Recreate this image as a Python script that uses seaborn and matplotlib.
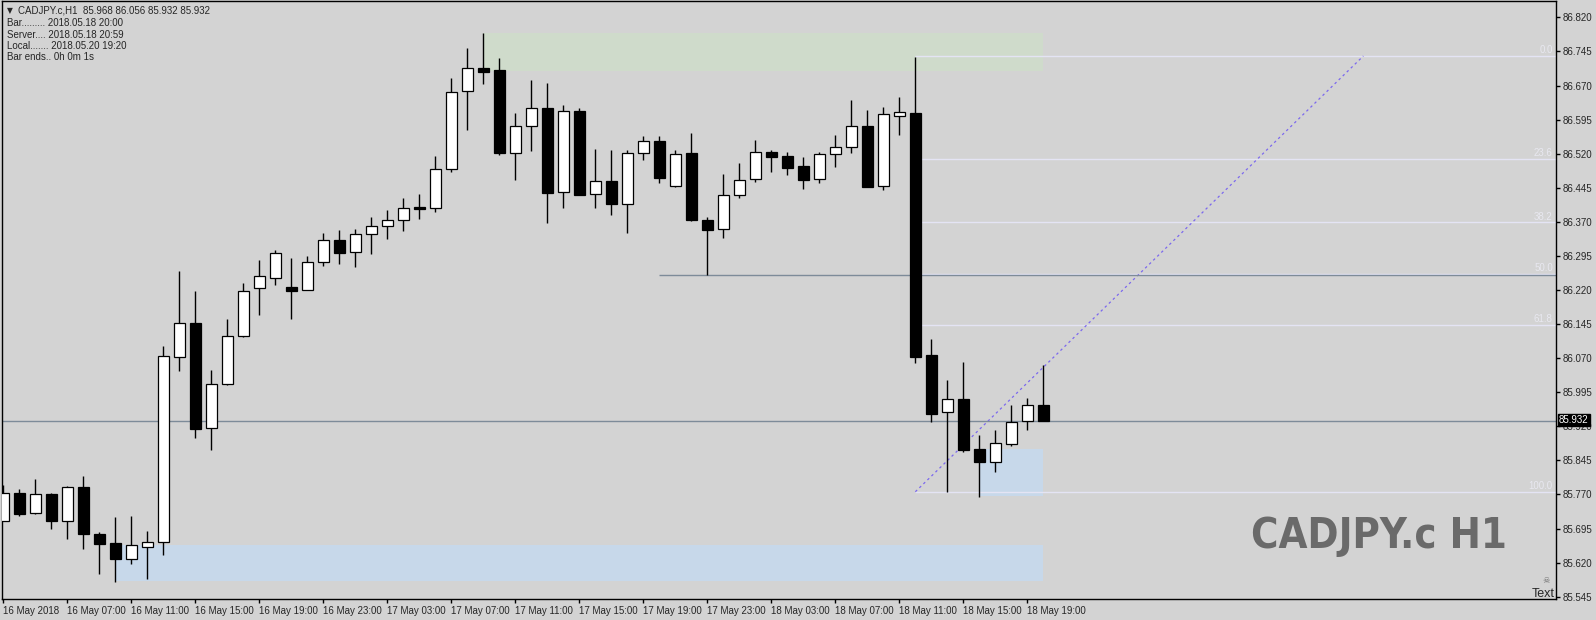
import numpy as np
import pandas as pd
import seaborn as sns
import matplotlib.pyplot as plt
from matplotlib import font_manager

# hourly CADJPY.c candles, 16 May 03:00 .. 18 May 20:00
opens = [85.712, 85.773, 85.729, 85.771, 85.711, 85.787, 85.682, 85.663, 85.628, 85.655,
         85.665, 86.073, 86.147, 85.916, 86.013, 86.119, 86.225, 86.247, 86.227, 86.221,
         86.281, 86.330, 86.303, 86.343, 86.360, 86.373, 86.402, 86.400, 86.486, 86.657,
         86.708, 86.704, 86.521, 86.582, 86.620, 86.435, 86.615, 86.431, 86.459, 86.409,
         86.521, 86.547, 86.448, 86.521, 86.373, 86.354, 86.428, 86.464, 86.523, 86.514,
         86.493, 86.464, 86.519, 86.534, 86.581, 86.448, 86.604, 86.609, 86.077, 85.951,
         85.980, 85.870, 85.842, 85.882, 85.931, 85.968]
highs = [85.791, 85.782, 85.804, 85.773, 85.789, 85.811, 85.688, 85.721, 85.722, 85.690,
         86.097, 86.262, 86.218, 86.044, 86.156, 86.235, 86.286, 86.308, 86.290, 86.295,
         86.345, 86.352, 86.354, 86.381, 86.396, 86.422, 86.431, 86.515, 86.686, 86.752,
         86.785, 86.730, 86.609, 86.682, 86.675, 86.627, 86.620, 86.530, 86.528, 86.528,
         86.559, 86.559, 86.528, 86.565, 86.381, 86.475, 86.499, 86.550, 86.528, 86.524,
         86.513, 86.524, 86.561, 86.638, 86.616, 86.623, 86.645, 86.733, 86.112, 86.022,
         86.062, 85.901, 85.912, 85.967, 85.982, 86.056]
lows = [85.711, 85.723, 85.726, 85.694, 85.671, 85.651, 85.594, 85.578, 85.618, 85.583,
        85.637, 86.042, 85.895, 85.869, 86.012, 86.117, 86.166, 86.232, 86.157, 86.220,
        86.273, 86.278, 86.271, 86.300, 86.333, 86.350, 86.377, 86.392, 86.480, 86.573,
        86.674, 86.518, 86.463, 86.526, 86.368, 86.401, 86.429, 86.401, 86.386, 86.346,
        86.505, 86.456, 86.447, 86.372, 86.252, 86.335, 86.423, 86.458, 86.480, 86.472,
        86.443, 86.456, 86.491, 86.522, 86.446, 86.441, 86.561, 86.060, 85.930, 85.776,
        85.864, 85.765, 85.820, 85.877, 85.913, 85.932]
closes = [85.773, 85.728, 85.770, 85.712, 85.786, 85.682, 85.662, 85.628, 85.658, 85.665,
          86.074, 86.147, 85.915, 86.013, 86.118, 86.218, 86.251, 86.301, 86.218, 86.282,
          86.330, 86.302, 86.343, 86.361, 86.373, 86.400, 86.399, 86.486, 86.655, 86.708,
          86.700, 86.522, 86.582, 86.620, 86.434, 86.615, 86.430, 86.459, 86.410, 86.521,
          86.547, 86.467, 86.519, 86.373, 86.353, 86.428, 86.461, 86.523, 86.513, 86.489,
          86.463, 86.519, 86.534, 86.582, 86.447, 86.607, 86.611, 86.073, 85.948, 85.980,
          85.869, 85.842, 85.883, 85.929, 85.966, 85.932]

time_labels = ["16 May 2018", "16 May 07:00", "16 May 11:00", "16 May 15:00", "16 May 19:00",
               "16 May 23:00", "17 May 03:00", "17 May 07:00", "17 May 11:00", "17 May 15:00",
               "17 May 19:00", "17 May 23:00", "18 May 03:00", "18 May 07:00", "18 May 11:00",
               "18 May 15:00", "18 May 19:00"]
price_ticks = [85.545, 85.620, 85.695, 85.770, 85.845, 85.920, 85.995, 86.070, 86.145,
               86.220, 86.295, 86.370, 86.445, 86.520, 86.595, 86.670, 86.745, 86.820]

fib_levels = [0.0, 23.6, 38.2, 50.0, 61.8, 100.0]
fib_high = 86.735
fib_low = 85.776
fib_start, fib_end = 57, 85
bid = 85.932
support = 86.254
support_start = 41
green_zone = (30, 65, 86.701, 86.786)
blue_zone = (7, 65, 85.580, 85.659)
blue_zone2 = (61, 65, 85.767, 85.870)

header = ["Bar......... 2018.05.18 20:00", "Server.... 2018.05.18 20:59",
          "Local....... 2018.05.20 19:20", "Bar ends.. 0h 0m 1s"]

bg = "#d3d3d3"
sns.set_style("white", rc={"axes.facecolor": bg, "figure.facecolor": bg,
                           "axes.edgecolor": "black"})
plt.rcParams["font.family"] = ["Liberation Sans", "DejaVu Sans"]

df = pd.DataFrame({"o": opens, "h": highs, "l": lows, "c": closes})
df["bar"] = np.arange(len(df))
df["bottom"] = df[["o", "c"]].min(axis=1)
df["height"] = (df["o"] - df["c"]).abs().clip(lower=0.0015)
df["bull"] = df["c"] > df["o"]

fig = plt.figure(figsize=(15.96, 6.2), dpi=100)
ax = fig.add_axes([2 / 1596, 21 / 620, 1554 / 1596, 598 / 620])
xmin, xmax = -0.08, 97.04
ax.set_xlim(xmin, xmax)
ax.set_ylim(85.540, 86.856)

# zones
for x0, x1, y0, y1 in [green_zone]:
    ax.fill_between([x0, x1], y0, y1, color="#cfdbcb", lw=0, zorder=0.5)
for x0, x1, y0, y1 in [blue_zone, blue_zone2]:
    ax.fill_between([x0, x1], y0, y1, color="#c7d8ea", lw=0, zorder=0.5)

# fibonacci levels
for lvl in fib_levels:
    p = fib_high - (fib_high - fib_low) * lvl / 100
    ax.hlines(p, fib_start, xmax, color="#e4e4f4", lw=1, zorder=1)
    ax.text(xmax - 0.2, p + 0.002, f"{lvl:.1f}", ha="right", va="bottom",
            fontsize=7, color="#e8e8f0", zorder=1)
ax.plot([fib_start, fib_end], [fib_low, fib_high], ls=(0, (2, 2.5)),
        color="#7b68ee", lw=0.9, zorder=1)

ax.hlines(support, support_start, xmax, color="#7d8b99", lw=1, zorder=1)
ax.axhline(bid, color="#7d8b99", lw=1, zorder=1)

# candles
ax.vlines(df["bar"], df["l"], df["h"], color="black", lw=1, zorder=2)
ax.bar(df["bar"], df["height"], bottom=df["bottom"], width=0.66,
       color=np.where(df["bull"], "white", "black"), edgecolor="black",
       linewidth=0.9, zorder=3)

# axes styling
for s in ax.spines.values():
    s.set_linewidth(1)
ax.yaxis.tick_right()
ax.set_yticks(price_ticks)
ax.set_yticklabels([f"{v:.3f}" for v in price_ticks], fontsize=7)
ax.set_xticks(np.arange(0, 4 * len(time_labels), 4))
ax.set_xticklabels(time_labels, fontsize=7)
for lab in ax.get_xticklabels():
    lab.set_ha("left")
ax.tick_params(axis="both", direction="out", length=3, width=1, color="black", pad=2)
ax.tick_params(axis="y", left=False, right=True)
ax.tick_params(axis="x", bottom=True)

# texts
fig.text(7 / 1596, 1 - 10.5 / 620, "\u25bc", fontsize=5.5, va="center",
         family=["DejaVu Sans"])
fig.text(18 / 1596, 1 - 10.5 / 620, "CADJPY.c,H1  85.968 86.056 85.932 85.932",
         fontsize=7, va="center")
for k, line in enumerate(header):
    fig.text(7 / 1596, 1 - (23 + 11.5 * k) / 620, line, fontsize=7, va="center")

# watermark: prefer a narrow bold face if one is installed
wm_family, wm_size, wm_stretch = "Liberation Sans", 29, "normal"
try:
    font_manager.findfont(font_manager.FontProperties(family="Liberation Sans Narrow",
                                                      weight="bold"),
                          fallback_to_default=False)
    wm_family, wm_size = "Liberation Sans Narrow", 36
except ValueError:
    path = font_manager.findfont(font_manager.FontProperties(
        family="DejaVu Sans", weight="bold", stretch="condensed"))
    if "Condensed" in path:
        wm_family, wm_size, wm_stretch = "DejaVu Sans", 30, "condensed"
fig.text(1507 / 1596, 1 - 548 / 620, "CADJPY.c H1", ha="right", va="baseline",
         fontsize=wm_size, fontweight="bold", fontstretch=wm_stretch, color="#6a6a6a",
         family=wm_family)
fig.text(1555 / 1596, 1 - 597 / 620, "Text", ha="right", va="baseline", fontsize=9)
fig.text(1546 / 1596, 1 - 583 / 620, "\u2620", ha="center", va="baseline",
         fontsize=6, color="#707070", family=["DejaVu Sans"])

fig.text(1559 / 1596, 1 - 420 / 620, f"{bid:.3f}", ha="left", va="center",
         fontsize=7, color="white",
         bbox=dict(boxstyle="square,pad=0.15", fc="black", ec="black"))

fig.savefig("out.png", dpi=100, facecolor=fig.get_facecolor())
plt.close(fig)
